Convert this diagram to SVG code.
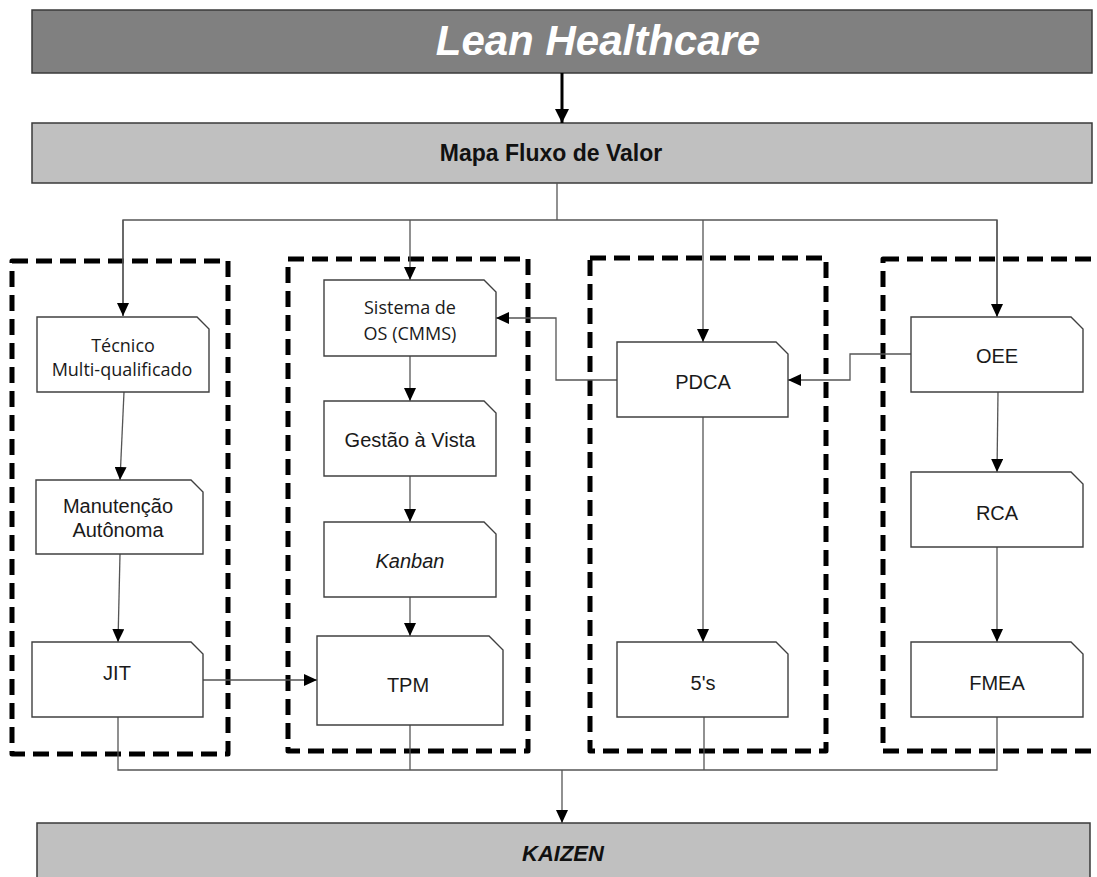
<svg xmlns="http://www.w3.org/2000/svg" width="1097" height="877" viewBox="0 0 1097 877">
  <style>
    .bar-dark { fill: #808080; stroke: #3a3a3a; stroke-width: 1.5; }
    .bar-light { fill: #c0c0c0; stroke: #3a3a3a; stroke-width: 1.5; }
    .group-frame { fill: none; stroke: #000; stroke-width: 5; stroke-dasharray: 16 8; stroke-linejoin: round; }
    .node { fill: #fff; stroke: #404040; stroke-width: 1.4; }
    .conn { fill: none; stroke: #555; stroke-width: 1.3; }
    .conn-main { fill: none; stroke: #000; stroke-width: 3; }
    .lbl { font-family: "Liberation Sans", Arial, sans-serif; font-size: 20px; fill: #1a1a1a; text-anchor: middle; }
    .lbl-c { font-family: "Open Sans", "Noto Sans", sans-serif; font-size: 18px; fill: #1a1a1a; text-anchor: middle; }
    .title { font-family: "Liberation Sans", Arial, sans-serif; font-weight: bold; text-anchor: middle; }
  </style>
  <defs>
    <marker id="arr" markerUnits="userSpaceOnUse" markerWidth="13" markerHeight="12" refX="13" refY="6" orient="auto">
      <path d="M0,0 L13,6 L0,12 z" fill="#000"/>
    </marker>
    <marker id="arr-main" markerUnits="userSpaceOnUse" markerWidth="14" markerHeight="14" refX="14" refY="7" orient="auto">
      <path d="M0,0 L14,7 L0,14 z" fill="#000"/>
    </marker>
  </defs>

  <rect width="1097" height="877" fill="#fff"/>

  <!-- header bars -->
  <g id="lean-healthcare">
    <rect class="bar-dark" x="32" y="10" width="1060" height="63"/>
    <text class="title" x="598" y="55" font-size="42" font-style="italic" fill="#fff">Lean Healthcare</text>
  </g>
  <g id="mapa-fluxo">
    <rect class="bar-light" x="32" y="123" width="1060" height="60"/>
    <text class="title" x="551" y="161" font-size="23" fill="#111">Mapa Fluxo de Valor</text>
  </g>

  <!-- dashed group frames -->
  <g id="frames">
    <rect class="group-frame" x="12" y="261" width="216" height="493"/>
    <rect class="group-frame" x="288" y="259" width="240" height="492"/>
    <rect class="group-frame" x="590" y="258" width="236" height="493"/>
    <rect class="group-frame" x="883" y="259" width="230" height="492"/>
  </g>

  <!-- connectors -->
  <g id="connectors">
    <line class="conn-main" x1="562" y1="73" x2="562" y2="123" marker-end="url(#arr-main)"/>
    <polyline class="conn" points="557,183 557,220"/>
    <polyline class="conn" points="123,316 123,220 997,220 997,316"/>
    <line class="conn" x1="123" y1="220" x2="123" y2="316" marker-end="url(#arr)"/>
    <line class="conn" x1="410" y1="220" x2="410" y2="280" marker-end="url(#arr)"/>
    <line class="conn" x1="703" y1="220" x2="703" y2="342" marker-end="url(#arr)"/>
    <line class="conn" x1="997" y1="220" x2="997" y2="317" marker-end="url(#arr)"/>

    <line class="conn" x1="124" y1="392" x2="120" y2="480" marker-end="url(#arr)"/>
    <line class="conn" x1="120" y1="554" x2="118" y2="642" marker-end="url(#arr)"/>
    <line class="conn" x1="203" y1="680" x2="317" y2="680" marker-end="url(#arr)"/>

    <line class="conn" x1="410" y1="356" x2="410" y2="401" marker-end="url(#arr)"/>
    <line class="conn" x1="410" y1="476" x2="410" y2="522" marker-end="url(#arr)"/>
    <line class="conn" x1="410" y1="597" x2="410" y2="636" marker-end="url(#arr)"/>

    <polyline class="conn" points="617,380 556,380 556,318 496,318" marker-end="url(#arr)"/>
    <line class="conn" x1="703" y1="417" x2="703" y2="642" marker-end="url(#arr)"/>

    <polyline class="conn" points="911,354 850,354 850,380 788,380" marker-end="url(#arr)"/>
    <line class="conn" x1="998" y1="392" x2="997" y2="472" marker-end="url(#arr)"/>
    <line class="conn" x1="997" y1="547" x2="997" y2="642" marker-end="url(#arr)"/>

    <polyline class="conn" points="118,717 118,770 997,770 997,717"/>
    <line class="conn" x1="410" y1="725" x2="410" y2="770"/>
    <line class="conn" x1="704" y1="717" x2="704" y2="770"/>
    <line class="conn" x1="562" y1="770" x2="562" y2="823" marker-end="url(#arr)"/>
  </g>

  <!-- column 1 -->
  <g id="tecnico">
    <path class="node" d="M37,317 H197 L209,329 V392 H37 Z"/>
    <text class="lbl-c" x="123" y="352">Técnico</text>
    <text class="lbl-c" x="122" y="376">Multi-qualificado</text>
  </g>
  <g id="manutencao">
    <path class="node" d="M36,480 H191 L203,492 V554 H36 Z"/>
    <text class="lbl" x="118" y="513">Manutenção</text>
    <text class="lbl" x="118" y="537">Autônoma</text>
  </g>
  <g id="jit">
    <path class="node" d="M32,642 H191 L203,654 V717 H32 Z"/>
    <text class="lbl" x="117" y="680">JIT</text>
  </g>

  <!-- column 2 -->
  <g id="sistema-os">
    <path class="node" d="M324,280 H484 L496,292 V356 H324 Z"/>
    <text class="lbl-c" x="410" y="314">Sistema de</text>
    <text class="lbl-c" x="410" y="340">OS (CMMS)</text>
  </g>
  <g id="gestao-vista">
    <path class="node" d="M324,401 H484 L496,413 V476 H324 Z"/>
    <text class="lbl" x="410" y="447">Gestão à Vista</text>
  </g>
  <g id="kanban">
    <path class="node" d="M324,522 H484 L496,534 V597 H324 Z"/>
    <text class="lbl" x="410" y="568" font-style="italic">Kanban</text>
  </g>
  <g id="tpm">
    <path class="node" d="M317,636 H489 L503,650 V725 H317 Z"/>
    <text class="lbl" x="408" y="692">TPM</text>
  </g>

  <!-- column 3 -->
  <g id="pdca">
    <path class="node" d="M617,342 H776 L788,354 V417 H617 Z"/>
    <text class="lbl" x="703" y="389">PDCA</text>
  </g>
  <g id="cinco-s">
    <path class="node" d="M617,642 H776 L788,654 V717 H617 Z"/>
    <text class="lbl" x="703" y="690">5's</text>
  </g>

  <!-- column 4 -->
  <g id="oee">
    <path class="node" d="M911,317 H1071 L1083,329 V392 H911 Z"/>
    <text class="lbl" x="997" y="363">OEE</text>
  </g>
  <g id="rca">
    <path class="node" d="M911,472 H1071 L1083,484 V547 H911 Z"/>
    <text class="lbl" x="997" y="520">RCA</text>
  </g>
  <g id="fmea">
    <path class="node" d="M911,642 H1071 L1083,654 V717 H911 Z"/>
    <text class="lbl" x="997" y="690">FMEA</text>
  </g>

  <!-- result bar -->
  <g id="kaizen">
    <rect class="bar-light" x="37" y="823" width="1053" height="70"/>
    <text class="title" x="563" y="861" font-size="22" font-style="italic" fill="#111">KAIZEN</text>
  </g>
</svg>
